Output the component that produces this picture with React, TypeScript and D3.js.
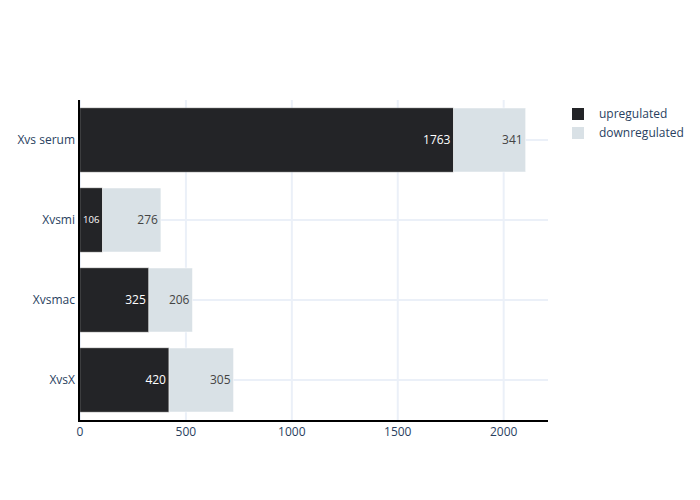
import React from "react";
import * as d3 from "d3";

const categories = ["XvsX", "Xvsmac", "Xvsmi", "Xvs serum"];
const upregulated = [420, 325, 106, 1763];
const downregulated = [305, 206, 276, 341];
const xTicks = [0, 500, 1000, 1500, 2000];
const seriesNames = ["upregulated", "downregulated"];

const W = 700;
const H = 500;
const L = 80;
const R = 548;
const T = 100;
const B = 420;
const FONT = "'Open Sans', sans-serif";
const DARK = "#232427";
const LIGHT = "#d9e1e6";
const TEXT = "#2a3f5f";
const GRID = "#ebf0f8";

export default function App() {
  const totals = categories.map((_, i) => upregulated[i] + downregulated[i]);
  const maxTotal = d3.max(totals) as number;
  const x = d3.scaleLinear().domain([0, maxTotal * 1.05]).range([L, R]);
  const y = d3
    .scaleBand()
    .domain(categories.slice().reverse())
    .range([T, B])
    .paddingInner(0.2)
    .paddingOuter(0.1);
  const yCenter = (c: string) => (y(c) as number) + y.bandwidth() / 2;

  const PAD = 3;
  const label = (val: number, x0: number, x1: number, cy: number, color: string, key: string) => {
    const w = x1 - x0;
    let fs = 12;
    const tw = String(val).length * 0.572 * fs;
    if (tw + 2 * PAD > w) fs = (fs * (w - 2 * PAD)) / tw;
    return (
      <text
        key={key}
        x={x1 - PAD}
        y={cy + fs * 0.36}
        textAnchor="end"
        fontSize={fs}
        fill={color}
        fontFamily={FONT}
      >
        {val}
      </text>
    );
  };

  return (
    <svg width={W} height={H} style={{ display: "block", position: "absolute", left: 0, top: 0 }}>
      <rect width={W} height={H} fill="#fff" />
      {xTicks.map((t) => (
        <line key={"gx" + t} x1={x(t)} x2={x(t)} y1={T} y2={B} stroke={GRID} strokeWidth={2} />
      ))}
      {categories.map((c) => (
        <line key={"gy" + c} x1={L} x2={R} y1={yCenter(c)} y2={yCenter(c)} stroke={GRID} strokeWidth={2} />
      ))}
      {categories.map((c, i) => {
        const y0 = y(c) as number;
        const bh = y.bandwidth();
        const a0 = x(0);
        const a1 = x(upregulated[i]);
        const b1 = x(upregulated[i] + downregulated[i]);
        return (
          <g key={"bar" + c}>
            <rect x={a0} y={y0} width={a1 - a0} height={bh} fill={DARK} stroke="#888" strokeWidth={0.5} />
            <rect x={a1} y={y0} width={b1 - a1} height={bh} fill={LIGHT} stroke="#fff" strokeWidth={0.5} />
            {label(upregulated[i], a0, a1, yCenter(c), "#ffffff", "lu" + c)}
            {label(downregulated[i], a1, b1, yCenter(c), "#444444", "ld" + c)}
          </g>
        );
      })}
      <line x1={79} x2={79} y1={T} y2={B + 1} stroke="#000" strokeWidth={2} />
      <line x1={78} x2={R} y1={B + 1} y2={B + 1} stroke="#000" strokeWidth={2} />
      {xTicks.map((t) => (
        <text key={"xt" + t} x={x(t)} y={436} textAnchor="middle" fontSize={12} fill={TEXT} fontFamily={FONT}>
          {t}
        </text>
      ))}
      {categories.map((c) => (
        <text key={"yt" + c} x={75} y={yCenter(c) + 4.2} textAnchor="end" fontSize={12} fill={TEXT} fontFamily={FONT}>
          {c}
        </text>
      ))}
      {seriesNames.map((s, i) => (
        <g key={"lg" + s}>
          <rect x={572} y={108 + i * 19} width={12} height={12} fill={i === 0 ? DARK : LIGHT} />
          <text x={599} y={118.2 + i * 19} fontSize={12} fill={TEXT} fontFamily={FONT}>
            {s}
          </text>
        </g>
      ))}
    </svg>
  );
}
